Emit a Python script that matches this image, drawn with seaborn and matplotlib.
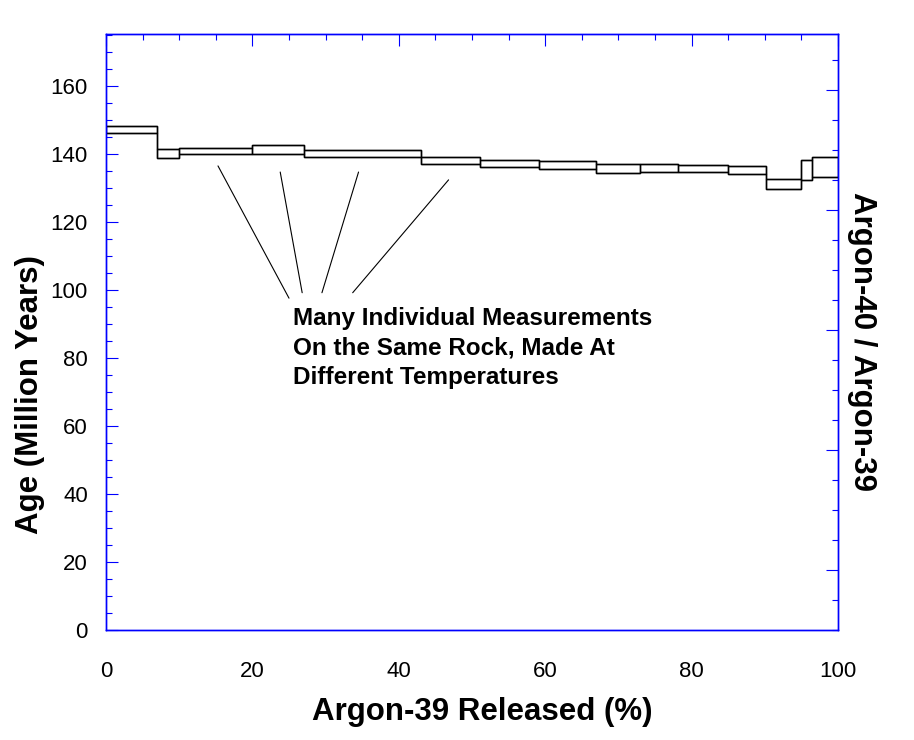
import numpy as np
import pandas as pd
import matplotlib
matplotlib.use("Agg")
import matplotlib.pyplot as plt
from matplotlib.ticker import MultipleLocator, FixedLocator, NullFormatter
import seaborn as sns

# ---- data ----
step_edges = [0, 7.0, 10.0, 20.0, 27.1, 43.1, 51.1, 59.1, 67.0, 73.0, 78.1, 85.0, 90.1, 95.0, 96.5, 100]
age_high = [148.2, 141.4, 141.7, 142.6, 141.1, 139.0, 138.2, 137.8, 137.0, 137.2, 136.7, 136.4, 132.6, 138.1, 139.0]
age_low = [146.1, 138.7, 139.9, 139.9, 139.0, 137.0, 136.1, 135.5, 134.3, 134.8, 134.6, 134.0, 129.6, 132.3, 133.1]

x_ticks = [0, 20, 40, 60, 80, 100]
y_ticks = [0, 20, 40, 60, 80, 100, 120, 140, 160]

# leader lines (from box to annotation text), data coordinates
leader_x0 = [15.3, 23.8, 34.5, 46.8]
leader_y0 = [136.5, 134.7, 134.7, 132.4]
leader_x1 = [25.0, 26.8, 29.5, 33.7]
leader_y1 = [97.6, 99.2, 99.2, 99.2]

note_text = "Many Individual Measurements\nOn the Same Rock, Made At\nDifferent Temperatures"
note_xy = (25.5, 95.0)

x_label = "Argon-39 Released (%)"
y_label = "Age (Million Years)"
right_label = "Argon-40 / Argon-39"

# ---- style ----
sns.set_style("white")
plt.rcParams['font.family'] = ['Liberation Sans', 'DejaVu Sans']
plt.rcParams['text.color'] = 'black'

BLUE = "#0000FF"

df = pd.DataFrame({
    "left": step_edges[:-1],
    "width": np.diff(step_edges),
    "low": age_low,
    "high": age_high,
})

fig = plt.figure(figsize=(9.14, 7.40), dpi=100)
ax = fig.add_axes([106/914, 110/740, (838-106)/914, (630-34)/740])

# boxes
ax.bar(df["left"], df["high"] - df["low"], width=df["width"], bottom=df["low"],
       align="edge", fill=False, edgecolor="black", linewidth=1.0, zorder=3)

# upper and lower step outlines (connect adjacent boxes vertically)
steps = pd.DataFrame({
    "x": step_edges,
    "high": age_high + [age_high[-1]],
    "low": age_low + [age_low[-1]],
})
for col in ["high", "low"]:
    sns.lineplot(data=steps, x="x", y=col, ax=ax, color="black", linewidth=1.0,
                 drawstyle="steps-post", sort=False, estimator=None, zorder=3)

for i in range(len(leader_x0)):
    seg = pd.DataFrame({"x": [leader_x0[i], leader_x1[i]], "y": [leader_y0[i], leader_y1[i]]})
    sns.lineplot(data=seg, x="x", y="y", ax=ax, color="black", linewidth=0.8,
                 sort=False, estimator=None)

ax.text(note_xy[0], note_xy[1], note_text, fontsize=17.5, fontweight="bold",
        ha="left", va="top", color="black", linespacing=1.36)

ax.set_xlim(0, 100)
ax.set_ylim(0, 175.3)
ax.xaxis.set_major_locator(FixedLocator(x_ticks))
ax.xaxis.set_minor_locator(MultipleLocator(5))
ax.yaxis.set_major_locator(FixedLocator(y_ticks))
ax.yaxis.set_minor_locator(MultipleLocator(5))

ax.tick_params(axis="both", which="both", direction="in", colors=BLUE,
               labelcolor="black", top=True, labeltop=False)
ax.tick_params(axis="both", which="major", length=8.6, width=0.8, labelsize=16)
ax.tick_params(axis="both", which="minor", length=4.3, width=0.8)
ax.tick_params(axis="x", which="major", pad=22)
ax.tick_params(axis="y", which="major", pad=13)
ax.tick_params(axis="y", right=False)

for s in ax.spines.values():
    s.set_color(BLUE)
    s.set_linewidth(1.0)
    s.set_visible(True)

ax.set_xlabel("")
ax.set_ylabel("")

ax2 = ax.twinx()
ax2.set_ylim(0, 596/30)
ax2.yaxis.set_major_locator(FixedLocator([2, 6, 10, 14, 18]))
ax2.yaxis.set_minor_locator(MultipleLocator(1))
ax2.yaxis.set_major_formatter(NullFormatter())
ax2.tick_params(axis="y", which="both", direction="in", colors=BLUE)
ax2.tick_params(axis="y", which="major", length=8.6, width=0.8)
ax2.tick_params(axis="y", which="minor", length=4.3, width=0.8)
for s in ax2.spines.values():
    s.set_color(BLUE)
    s.set_linewidth(1.0)

fig.text(482/914, 1 - 712/740, x_label, fontsize=22.5, fontweight="bold",
         ha="center", va="center", color="black")
fig.text(30/914, 1 - 395/740, y_label, fontsize=22.5, fontweight="bold",
         ha="center", va="center", rotation=90, color="black")
fig.text(862/914, 1 - 342/740, right_label, fontsize=22.5, fontweight="bold",
         ha="center", va="center", rotation=270, color="black")

fig.savefig("out.png", dpi=100, facecolor="white")
